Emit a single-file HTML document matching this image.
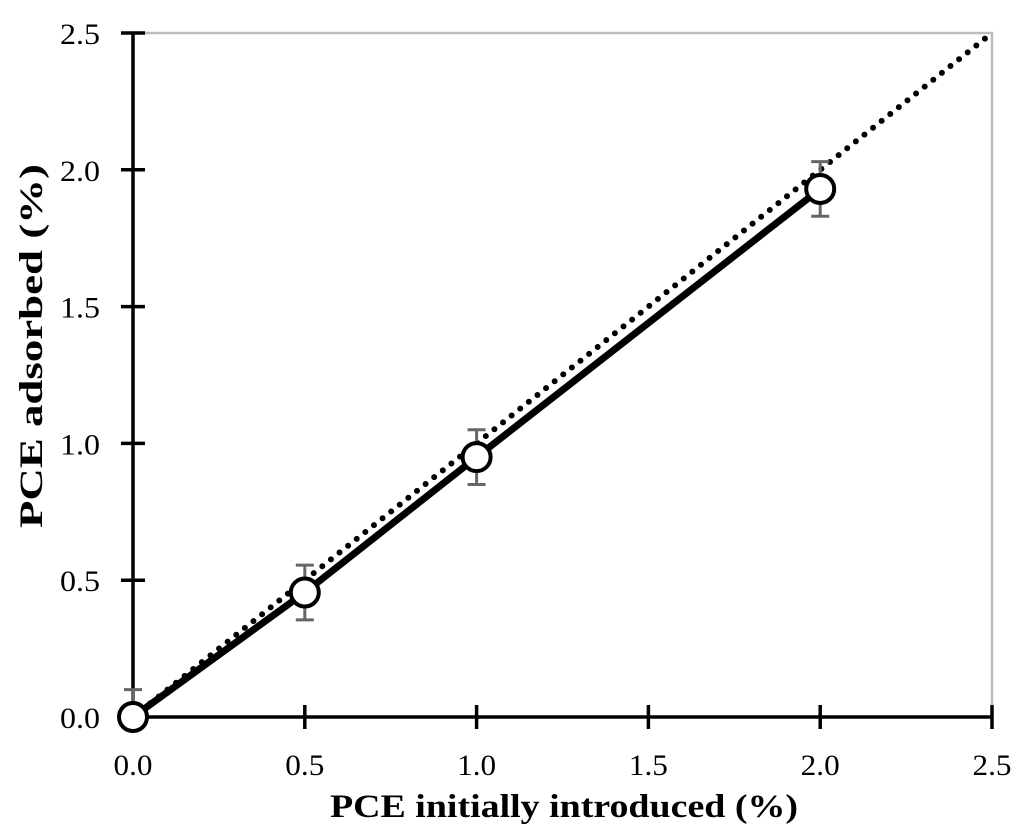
<!DOCTYPE html>
<html><head><meta charset="utf-8"><style>
body{margin:0;background:#fff;}
svg{display:block;font-family:"Liberation Serif",serif;}
</style></head><body>
<svg id="chart" width="1024" height="835" viewBox="0 0 1024 835"></svg>
<script>
const xTicks=[0,0.5,1,1.5,2,2.5];
const yTicks=[0,0.5,1,1.5,2,2.5];
const tickLabels=["0.0","0.5","1.0","1.5","2.0","2.5"];
const xVals=[0,0.5,1,2];
const yVals=[0,0.455,0.95,1.93];
const errVals=[0.1,0.1,0.1,0.1];
const refLine=[0,2.5];
const NS="http://www.w3.org/2000/svg";
const svg=document.getElementById('chart');
const X0=133,X1=992,Y0=717,Y1=33;
const sx=v=>X0+(v/2.5)*(X1-X0);
const sy=v=>Y0-(v/2.5)*(Y0-Y1);
function mk(t,a,p){const e=document.createElementNS(NS,t);for(const k in a)e.setAttribute(k,a[k]);(p||svg).appendChild(e);return e;}
let e=mk('path',{d:`M${X0},${Y1}H${X1}V${Y0}`,fill:'none',stroke:'#bdbdbd','stroke-width':2.5});


e=mk('line',{x1:X0,y1:Y0,x2:X1,y2:Y0,stroke:'#000','stroke-width':3.5});


e=mk('line',{x1:X0,y1:Y0,x2:X0,y2:Y1,stroke:'#000','stroke-width':3.5});


xTicks.forEach((v,i)=>{
  e=mk('line',{x1:sx(v),y1:Y0-12,x2:sx(v),y2:Y0+12,stroke:'#000','stroke-width':3.5});
  
  
  e=mk('text',{x:sx(v),y:Y0+58,'text-anchor':'middle','font-size':30,textLength:39,lengthAdjust:'spacingAndGlyphs'});
  e.textContent=tickLabels[i];
  
  
});
yTicks.forEach((v,i)=>{
  e=mk('text',{x:60,y:sy(v)+11,'font-size':30,textLength:40,lengthAdjust:'spacingAndGlyphs'});
  e.textContent=tickLabels[i];
  
  
  e=mk('line',{x1:X0-12,y1:sy(v),x2:X0+12,y2:sy(v),stroke:'#000','stroke-width':3.5});
  
  
});
e=mk('line',{x1:sx(refLine[0]),y1:sy(refLine[0]),x2:sx(refLine[1]),y2:sy(refLine[1]),stroke:'#000','stroke-width':6,'stroke-dasharray':'0 11','stroke-linecap':'round'});


xVals.forEach((x,i)=>{
  const g=mk('g',{stroke:'#666','stroke-width':3});
  
  
  const top=sy(yVals[i]+errVals[i]),bot=sy(Math.max(0,yVals[i]-errVals[i]));
  mk('line',{x1:sx(x),y1:top,x2:sx(x),y2:bot},g);
  mk('line',{x1:sx(x)-9,y1:top,x2:sx(x)+9,y2:top},g);
  if(yVals[i]-errVals[i]>0)mk('line',{x1:sx(x)-9,y1:bot,x2:sx(x)+9,y2:bot},g);
});
e=mk('polyline',{points:xVals.map((x,i)=>sx(x)+','+sy(yVals[i])).join(' '),fill:'none',stroke:'#000','stroke-width':7});


xVals.forEach((x,i)=>{
  e=mk('circle',{cx:sx(x),cy:sy(yVals[i]),r:14,fill:'#fff',stroke:'#000','stroke-width':4});
  
  
});
e=mk('text',{x:330,y:817,'font-size':33,'font-weight':'bold',textLength:468,lengthAdjust:'spacingAndGlyphs'});
e.textContent='PCE initially introduced (%)';


e=mk('text',{x:0,y:0,'font-size':33,'font-weight':'bold',textLength:364,lengthAdjust:'spacingAndGlyphs',transform:`translate(42,528) rotate(-90)`});
e.textContent='PCE adsorbed (%)';


</script>
</body></html>
